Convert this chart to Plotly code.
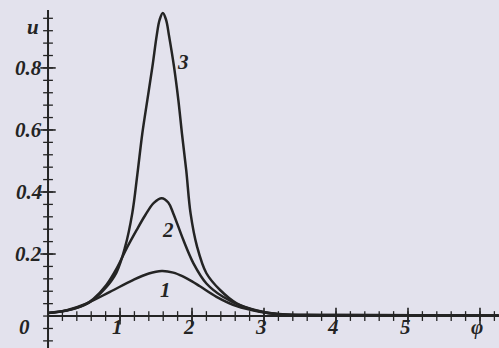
import plotly.graph_objects as go

# ---- data ----
phi1 = [0.0, 0.26, 0.54, 0.86, 1.18, 1.40, 1.58, 1.74, 1.88, 2.0, 2.11, 2.34, 2.62, 2.94, 3.2, 3.6, 4.5, 6.26]
u1 = [0.010, 0.019, 0.041, 0.078, 0.116, 0.137, 0.145, 0.140, 0.127, 0.112, 0.096, 0.062, 0.032, 0.014, 0.006, 0.003, 0.002, 0.002]

phi2 = [0.0, 0.3, 0.5, 0.63, 0.81, 0.95, 1.10, 1.23, 1.35, 1.47, 1.58, 1.67, 1.74, 1.88, 2.02, 2.20, 2.43, 2.71, 3.0, 3.3, 4.0, 6.26]
u2 = [0.010, 0.020, 0.035, 0.055, 0.100, 0.152, 0.222, 0.277, 0.325, 0.365, 0.380, 0.366, 0.331, 0.245, 0.170, 0.105, 0.062, 0.030, 0.012, 0.005, 0.003, 0.002]

phi3 = [0.0, 0.3, 0.58, 0.79, 0.95, 1.07, 1.17, 1.24, 1.31, 1.38, 1.45, 1.51, 1.55, 1.595, 1.64, 1.68, 1.75,
        1.81, 1.86, 1.92, 1.98, 2.07, 2.20, 2.39, 2.62, 2.9, 3.2, 4.0, 6.26]
u3 = [0.010, 0.020, 0.045, 0.088, 0.140, 0.222, 0.331, 0.455, 0.589, 0.697, 0.804, 0.905, 0.955, 0.977, 0.955,
      0.905, 0.804, 0.697, 0.589, 0.470, 0.331, 0.224, 0.138, 0.084, 0.041, 0.018, 0.006, 0.003, 0.002]

x_ticks = [1, 2, 3, 4, 5, 6]
x_tick_text = ["1", "2", "3", "4", "5", "φ"]
y_ticks = [0.2, 0.4, 0.6, 0.8]
y_tick_text = ["0.2", "0.4", "0.6", "0.8"]
x_minor = [round(0.2 * i, 2) for i in range(1, 32)]
y_minor = [round(0.04 * i, 2) for i in range(-2, 25)]

curve_labels = ["1", "2", "3"]
curve_label_pos = [(1.625, 0.084), (1.667, 0.277), (1.875, 0.82)]

X_MIN, X_MAX = -0.667, 6.264
Y_MIN, Y_MAX = -0.103, 1.019
Y_TOP = 0.987
LABEL_Y = -0.036

INK = "#242424"
BG = "#e3e2ed"
FONT = "Liberation Serif"

fig = go.Figure()

# axis lines
fig.add_shape(type="line", x0=0, x1=X_MAX, y0=0, y1=0, line=dict(color=INK, width=2))
fig.add_shape(type="line", x0=0, x1=0, y0=Y_MIN, y1=Y_TOP, line=dict(color=INK, width=2))

# ticks
def tick_trace(xs, ys, symbol, size, width):
    return go.Scatter(x=xs, y=ys, mode="markers",
                      marker=dict(symbol=symbol, size=size, color=INK, line=dict(color=INK, width=width)),
                      hoverinfo="skip", showlegend=False)

fig.add_trace(tick_trace(x_minor, [0] * len(x_minor), "line-ns-open", 7, 1.3))
fig.add_trace(tick_trace(x_ticks, [0] * len(x_ticks), "line-ns-open", 12, 1.6))
fig.add_trace(tick_trace([0] * len(y_minor), y_minor, "line-ew-open", 7, 1.3))
fig.add_trace(tick_trace([0] * len(y_ticks), y_ticks, "line-ew-open", 11, 1.6))

# curves
for px_, py_ in [(phi1, u1), (phi2, u2), (phi3, u3)]:
    fig.add_trace(go.Scatter(x=px_, y=py_, mode="lines",
                             line=dict(color=INK, width=2.5, shape="spline", smoothing=1.0),
                             hoverinfo="skip", showlegend=False))

lab_font = dict(family=FONT, size=21, color=INK)

def bi(t):
    return "<b><i>" + t + "</i></b>"

for xv, t in zip(x_ticks, x_tick_text):
    fig.add_annotation(x=xv, y=LABEL_Y, text=bi(t), showarrow=False, yanchor="middle", xanchor="center",
                       xshift=-3, font=lab_font)
for yv, t in zip(y_ticks, y_tick_text):
    fig.add_annotation(x=0, y=yv, text=bi(t), showarrow=False, xanchor="right", yanchor="middle",
                       xshift=-4, font=lab_font)
fig.add_annotation(x=-0.32, y=LABEL_Y, text=bi("0"), showarrow=False, font=lab_font)
fig.add_annotation(x=-0.21, y=0.932, text=bi("u"), showarrow=False, font=lab_font)

for t, (xv, yv) in zip(curve_labels, curve_label_pos):
    fig.add_annotation(x=xv, y=yv, text=bi(t), showarrow=False, font=lab_font)

fig.update_layout(
    width=499, height=348,
    margin=dict(l=0, r=0, t=0, b=0),
    paper_bgcolor=BG, plot_bgcolor=BG,
    xaxis=dict(range=[X_MIN, X_MAX], visible=False, fixedrange=True),
    yaxis=dict(range=[Y_MIN, Y_MAX], visible=False, fixedrange=True),
    showlegend=False,
)

fig.write_html("out.html", config={"displayModeBar": False},
               post_script="document.body.style.margin='0';document.body.style.background='" + BG + "';")
